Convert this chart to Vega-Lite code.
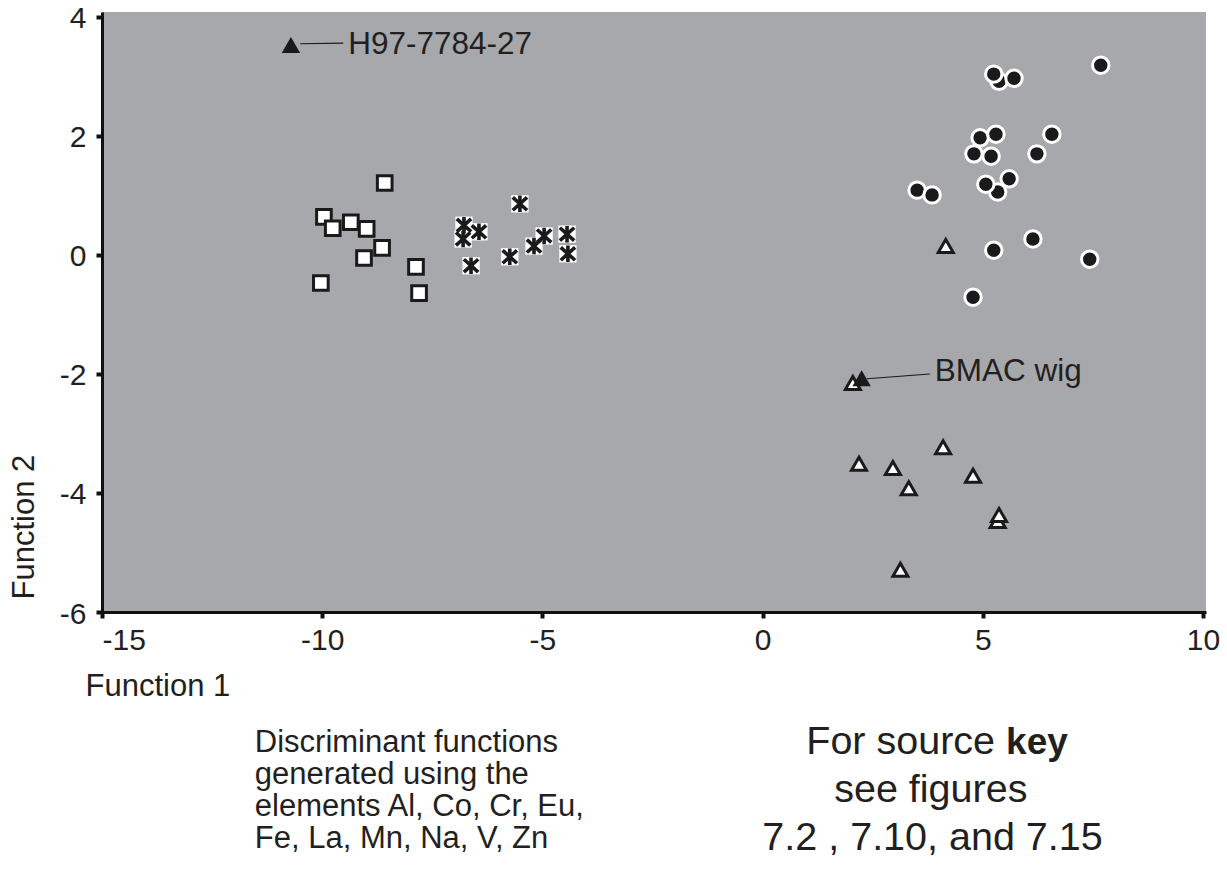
{
  "$schema": "https://vega.github.io/schema/vega-lite/v6.json",
  "width": 1104,
  "height": 600,
  "autosize": {"type": "none"},
  "padding": {"left": 102, "top": 12, "right": 21, "bottom": 260},
  "background": "white",
  "config": {
    "view": {"fill": "#a6a8ab", "stroke": null},
    "font": "Liberation Sans",
    "axis": {
      "grid": false,
      "domainColor": "#111111",
      "domainWidth": 3,
      "tickColor": "#111111",
      "tickWidth": 4,
      "tickSize": 6,
      "labelFont": "Liberation Sans",
      "labelFontSize": 30,
      "labelColor": "#231f20",
      "labelExpr": "replace(datum.label, '\u2212', '-')",
      "titleFont": "Liberation Sans",
      "titleFontSize": 31,
      "titleFontWeight": "normal",
      "titleColor": "#231f20"
    }
  },
  "datasets": {
    "squares": [
      {"f1": -9.96, "f2": 0.64}, {"f1": -9.76, "f2": 0.45}, {"f1": -9.35, "f2": 0.55},
      {"f1": -8.99, "f2": 0.44}, {"f1": -8.58, "f2": 1.21}, {"f1": -8.64, "f2": 0.12},
      {"f1": -9.05, "f2": -0.05}, {"f1": -10.03, "f2": -0.47}, {"f1": -7.87, "f2": -0.2},
      {"f1": -7.8, "f2": -0.64}
    ],
    "stars": [
      {"f1": -5.51, "f2": 0.86}, {"f1": -6.78, "f2": 0.5}, {"f1": -6.44, "f2": 0.39},
      {"f1": -6.8, "f2": 0.27}, {"f1": -6.62, "f2": -0.18}, {"f1": -5.74, "f2": -0.03},
      {"f1": -5.19, "f2": 0.15}, {"f1": -4.96, "f2": 0.32}, {"f1": -4.44, "f2": 0.35},
      {"f1": -4.42, "f2": 0.02}
    ],
    "circles": [
      {"f1": 7.68, "f2": 3.19}, {"f1": 5.37, "f2": 2.92}, {"f1": 5.25, "f2": 3.04},
      {"f1": 5.71, "f2": 2.97}, {"f1": 4.94, "f2": 1.97}, {"f1": 5.3, "f2": 2.03},
      {"f1": 6.57, "f2": 2.03}, {"f1": 4.8, "f2": 1.7}, {"f1": 5.19, "f2": 1.66},
      {"f1": 6.23, "f2": 1.7}, {"f1": 3.51, "f2": 1.09}, {"f1": 3.85, "f2": 1.01},
      {"f1": 5.34, "f2": 1.06}, {"f1": 5.07, "f2": 1.19}, {"f1": 5.6, "f2": 1.28},
      {"f1": 6.14, "f2": 0.27}, {"f1": 5.25, "f2": 0.08}, {"f1": 7.43, "f2": -0.07},
      {"f1": 4.78, "f2": -0.71}
    ],
    "triangles": [
      {"f1": 4.16, "f2": 0.15}, {"f1": 2.05, "f2": -2.15}, {"f1": 4.1, "f2": -3.23},
      {"f1": 2.19, "f2": -3.51}, {"f1": 2.96, "f2": -3.58}, {"f1": 3.32, "f2": -3.92},
      {"f1": 4.78, "f2": -3.71}, {"f1": 5.34, "f2": -4.47}, {"f1": 5.37, "f2": -4.37},
      {"f1": 3.13, "f2": -5.29}
    ],
    "named": [
      {"f1": 2.25, "f2": -2.07, "x1": 2.37, "y1": -2.08, "x2": 3.8, "y2": -2.0, "tx": 3.91, "ty": -1.97, "label": "BMAC wig"},
      {"f1": -10.71, "f2": 3.53, "x1": -10.5, "y1": 3.55, "x2": -9.52, "y2": 3.56, "tx": -9.41, "ty": 3.53, "label": "H97-7784-27"}
    ],
    "noteLeft": [
      {"tx": -11.53, "ty": -8.35, "label": "Discriminant functions"},
      {"tx": -11.53, "ty": -8.89, "label": "generated using the"},
      {"tx": -11.53, "ty": -9.43, "label": "elements Al, Co, Cr, Eu,"},
      {"tx": -11.53, "ty": -9.97, "label": "Fe, La, Mn, Na, V, Zn"}
    ],
    "noteRight": [
      {"tx": 3.82, "ty": -9.2, "label": "see figures"},
      {"tx": 3.86, "ty": -10.0, "label": "7.2 , 7.10, and 7.15"}
    ],
    "noteRightA": [{"tx": 5.28, "ty": -8.38, "label": "For source"}],
    "noteRightB": [{"tx": 5.53, "ty": -8.38, "label": "key"}]
  },
  "encoding": {
    "x": {
      "field": "f1", "type": "quantitative",
      "scale": {"domain": [-15, 10.07], "nice": false, "zero": false},
      "axis": {
        "values": [-15, -10, -5, 0, 5, 10],
        "labelPadding": 7,
        "title": "Function 1",
        "titleAnchor": "start",
        "titleAlign": "left",
        "titleBaseline": "alphabetic",
        "titleX": -17,
        "titleY": 83
      }
    },
    "y": {
      "field": "f2", "type": "quantitative",
      "scale": {"domain": [-6, 4.084], "nice": false, "zero": false},
      "axis": {
        "values": [-6, -4, -2, 0, 2, 4],
        "labelPadding": 10,
        "labelOffset": 2,
        "title": "Function 2",
        "titleAngle": -90,
        "titleAlign": "left",
        "titleBaseline": "middle",
        "titleX": -78,
        "titleY": 587
      }
    }
  },
  "layer": [
    {
      "data": {"name": "squares"},
      "mark": {"type": "point", "shape": "square", "filled": true, "fill": "white", "stroke": "#1a1a1a", "strokeWidth": 3, "size": 215, "opacity": 1}
    },
    {
      "data": {"name": "stars"},
      "mark": {"type": "point", "shape": "square", "filled": true, "fill": "white", "strokeWidth": 0, "size": 300, "opacity": 1}
    },
    {
      "data": {"name": "stars"},
      "mark": {"type": "point", "shape": "M0,-0.92L0,0.92M-0.8,-0.72L0.8,0.72M-0.8,0.72L0.8,-0.72", "filled": false, "stroke": "#1a1a1a", "strokeWidth": 3.6, "size": 320, "opacity": 1}
    },
    {
      "data": {"name": "circles"},
      "mark": {"type": "point", "shape": "circle", "filled": true, "fill": "#1a1a1a", "stroke": "white", "strokeWidth": 3, "size": 270, "opacity": 1}
    },
    {
      "data": {"name": "triangles"},
      "mark": {"type": "point", "shape": "triangle-up", "filled": true, "fill": "white", "stroke": "#1a1a1a", "strokeWidth": 3, "size": 225, "opacity": 1}
    },
    {
      "data": {"name": "named"},
      "mark": {"type": "point", "shape": "triangle-up", "filled": true, "fill": "#1a1a1a", "strokeWidth": 0, "size": 340, "opacity": 1}
    },
    {
      "data": {"name": "named"},
      "mark": {"type": "rule", "color": "#1a1a1a", "strokeWidth": 1.2},
      "encoding": {
        "x": {"field": "x1", "type": "quantitative"},
        "y": {"field": "y1", "type": "quantitative"},
        "x2": {"field": "x2"},
        "y2": {"field": "y2"}
      }
    },
    {
      "data": {"name": "named"},
      "mark": {"type": "text", "align": "left", "baseline": "middle", "fontSize": 31.5, "color": "#231f20", "font": "Liberation Sans"},
      "encoding": {
        "x": {"field": "tx", "type": "quantitative"},
        "y": {"field": "ty", "type": "quantitative"},
        "text": {"field": "label"}
      }
    },
    {
      "data": {"name": "noteLeft"},
      "mark": {"type": "text", "align": "left", "baseline": "alphabetic", "fontSize": 31, "color": "#231f20", "font": "Liberation Sans", "clip": false},
      "encoding": {
        "x": {"field": "tx", "type": "quantitative"},
        "y": {"field": "ty", "type": "quantitative"},
        "text": {"field": "label"}
      }
    },
    {
      "data": {"name": "noteRight"},
      "mark": {"type": "text", "align": "center", "baseline": "alphabetic", "fontSize": 39.5, "color": "#231f20", "font": "Liberation Sans", "clip": false},
      "encoding": {
        "x": {"field": "tx", "type": "quantitative"},
        "y": {"field": "ty", "type": "quantitative"},
        "text": {"field": "label"}
      }
    },
    {
      "data": {"name": "noteRightA"},
      "mark": {"type": "text", "align": "right", "baseline": "alphabetic", "fontSize": 39.5, "color": "#231f20", "font": "Liberation Sans", "clip": false},
      "encoding": {
        "x": {"field": "tx", "type": "quantitative"},
        "y": {"field": "ty", "type": "quantitative"},
        "text": {"field": "label"}
      }
    },
    {
      "data": {"name": "noteRightB"},
      "mark": {"type": "text", "align": "left", "baseline": "alphabetic", "fontSize": 37, "fontWeight": "bold", "color": "#231f20", "font": "Liberation Sans", "clip": false},
      "encoding": {
        "x": {"field": "tx", "type": "quantitative"},
        "y": {"field": "ty", "type": "quantitative"},
        "text": {"field": "label"}
      }
    }
  ]
}
